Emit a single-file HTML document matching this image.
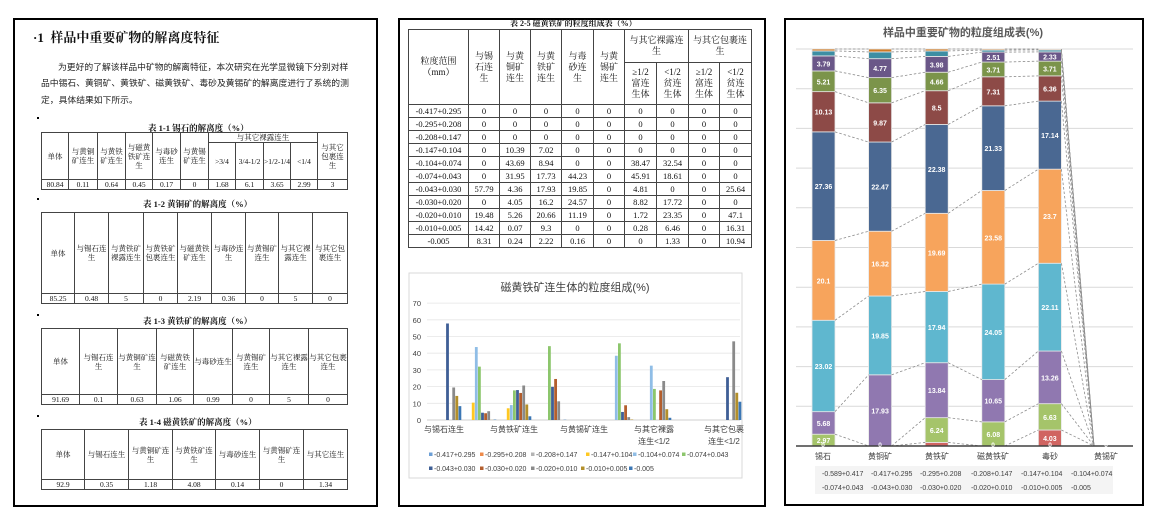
<!DOCTYPE html>
<html><head><meta charset="utf-8">
<style>
*{margin:0;padding:0;box-sizing:border-box}
body{width:1149px;height:518px;background:#fff;position:relative;overflow:hidden;font-family:"Liberation Serif","Noto Serif CJK SC",serif;color:#111}
.panel{position:absolute;border:2px solid #000;background:#fff}
.abs{position:absolute}
table{border-collapse:collapse;position:absolute;table-layout:fixed}
td{border:1px solid #444;text-align:center;vertical-align:middle;font-size:7.5px;line-height:9px;padding:0;overflow:hidden}
.cap{position:absolute;font-weight:bold;font-size:8.5px;white-space:nowrap}
.dot{position:absolute;width:2px;height:2px;background:#000;left:37px}
.mt td{font-size:8.5px;line-height:10px}
.mt .h td{font-size:9px;line-height:11px}
.pl{position:absolute;white-space:nowrap;font-size:8.8px;font-family:'Noto Sans CJK SC',sans-serif;color:#222}
</style></head><body>

<div class="panel" style="left:13px;top:18px;width:365px;height:489px"></div>
<div class="panel" style="left:398px;top:18px;width:368px;height:489px"></div>
<div class="panel" style="left:784px;top:18px;width:360px;height:488px"></div>

<!-- LEFT PANEL -->
<div class="abs" style="left:33px;top:27px;font-size:13px;font-weight:bold;white-space:nowrap">·1&nbsp; 样品中重要矿物的解离度特征</div>
<div class="pl" style="left:58px;top:60px">为更好的了解该样品中矿物的解离特征，本次研究在光学显微镜下分别对样</div>
<div class="pl" style="left:41px;top:76px">品中锡石、黄铜矿、黄铁矿、磁黄铁矿、毒砂及黄锡矿的解离度进行了系统的测</div>
<div class="pl" style="left:41px;top:93px">定，具体结果如下所示。</div>

<div class="dot" style="top:117px"></div>
<div class="cap" style="left:148px;top:122px">表 1-1 锡石的解离度（%）</div>
<table style="left:41px;top:132px;width:306px">
<colgroup><col style="width:27px"><col style="width:29px"><col style="width:28px"><col style="width:27px"><col style="width:28px"><col style="width:28px"><col style="width:27px"><col style="width:28px"><col style="width:27px"><col style="width:27px"><col style="width:30px"></colgroup>
<tr style="height:10px"><td rowspan="2">单体</td><td rowspan="2">与黄铜矿连生</td><td rowspan="2">与黄铁矿连生</td><td rowspan="2">与磁黄铁矿连生</td><td rowspan="2">与毒砂连生</td><td rowspan="2">与黄锡矿连生</td><td colspan="4">与其它裸露连生</td><td rowspan="2">与其它包裹连生</td></tr>
<tr style="height:37px"><td>&gt;3/4</td><td>3/4-1/2</td><td>&gt;1/2-1/4</td><td>&lt;1/4</td></tr>
<tr style="height:8px"><td>80.84</td><td>0.11</td><td>0.64</td><td>0.45</td><td>0.17</td><td>0</td><td>1.68</td><td>6.1</td><td>3.65</td><td>2.99</td><td>3</td></tr>
</table>

<div class="dot" style="top:198px"></div>
<div class="cap" style="left:143px;top:198px">表 1-2 黄铜矿的解离度（%）</div>
<table style="left:41px;top:212px;width:306px">
<colgroup><col style="width:33px"><col style="width:34px"><col style="width:35px"><col style="width:34px"><col style="width:34px"><col style="width:34px"><col style="width:33px"><col style="width:34px"><col style="width:35px"></colgroup>
<tr style="height:81px"><td>单体</td><td>与锡石连生</td><td>与黄铁矿裸露连生</td><td>与黄铁矿包裹连生</td><td>与磁黄铁矿连生</td><td>与毒砂连生</td><td>与黄锡矿连生</td><td>与其它裸露连生</td><td>与其它包裹连生</td></tr>
<tr style="height:10px"><td>85.25</td><td>0.48</td><td>5</td><td>0</td><td>2.19</td><td>0.36</td><td>0</td><td>5</td><td>0</td></tr>
</table>

<div class="dot" style="top:314px"></div>
<div class="cap" style="left:143px;top:315px">表 1-3 黄铁矿的解离度（%）</div>
<table style="left:41px;top:328px;width:306px">
<colgroup><col style="width:38px"><col style="width:38px"><col style="width:39px"><col style="width:37px"><col style="width:39px"><col style="width:37px"><col style="width:39px"><col style="width:39px"></colgroup>
<tr style="height:66px"><td>单体</td><td>与锡石连生</td><td>与黄铜矿连生</td><td>与磁黄铁矿连生</td><td>与毒砂连生</td><td>与黄锡矿连生</td><td>与其它裸露连生</td><td>与其它包裹连生</td></tr>
<tr style="height:9px"><td>91.69</td><td>0.1</td><td>0.63</td><td>1.06</td><td>0.99</td><td>0</td><td>5</td><td>0</td></tr>
</table>

<div class="dot" style="top:415px"></div>
<div class="cap" style="left:139px;top:416px">表 1-4 磁黄铁矿的解离度（%）</div>
<table style="left:41px;top:429px;width:306px">
<colgroup><col style="width:43px"><col style="width:44px"><col style="width:44px"><col style="width:43px"><col style="width:44px"><col style="width:44px"><col style="width:44px"></colgroup>
<tr style="height:50px"><td>单体</td><td>与锡石连生</td><td>与黄铜矿连生</td><td>与黄铁矿连生</td><td>与毒砂连生</td><td>与黄锡矿连生</td><td>与其它连生</td></tr>
<tr style="height:9px"><td>92.9</td><td>0.35</td><td>1.18</td><td>4.08</td><td>0.14</td><td>0</td><td>1.34</td></tr>
</table>

<!-- MIDDLE PANEL -->
<div class="cap" style="left:510px;top:18px;font-size:8px">表 2-5 磁黄铁矿的粒度组成表（%）</div>
<table class="mt" style="left:408px;top:29px;width:343px">
<colgroup><col style="width:60px"><col style="width:31px"><col style="width:31px"><col style="width:31px"><col style="width:32px"><col style="width:31px"><col style="width:32px"><col style="width:32px"><col style="width:31px"><col style="width:32px"></colgroup>
<tr class="h" style="height:33px"><td rowspan="2">粒度范围<br>（mm）</td><td rowspan="2">与锡<br>石连<br>生</td><td rowspan="2">与黄<br>铜矿<br>连生</td><td rowspan="2">与黄<br>铁矿<br>连生</td><td rowspan="2">与毒<br>砂连<br>生</td><td rowspan="2">与黄<br>锡矿<br>连生</td><td colspan="2">与其它裸露连<br>生</td><td colspan="2">与其它包裹连<br>生</td></tr>
<tr class="h" style="height:42px"><td>≥1/2<br>富连<br>生体</td><td>&lt;1/2<br>贫连<br>生体</td><td>≥1/2<br>富连<br>生体</td><td>&lt;1/2<br>贫连<br>生体</td></tr>
<tr style="height:13px"><td>-0.417+0.295</td><td>0</td><td>0</td><td>0</td><td>0</td><td>0</td><td>0</td><td>0</td><td>0</td><td>0</td></tr>
<tr style="height:13px"><td>-0.295+0.208</td><td>0</td><td>0</td><td>0</td><td>0</td><td>0</td><td>0</td><td>0</td><td>0</td><td>0</td></tr>
<tr style="height:13px"><td>-0.208+0.147</td><td>0</td><td>0</td><td>0</td><td>0</td><td>0</td><td>0</td><td>0</td><td>0</td><td>0</td></tr>
<tr style="height:13px"><td>-0.147+0.104</td><td>0</td><td>10.39</td><td>7.02</td><td>0</td><td>0</td><td>0</td><td>0</td><td>0</td><td>0</td></tr>
<tr style="height:13px"><td>-0.104+0.074</td><td>0</td><td>43.69</td><td>8.94</td><td>0</td><td>0</td><td>38.47</td><td>32.54</td><td>0</td><td>0</td></tr>
<tr style="height:13px"><td>-0.074+0.043</td><td>0</td><td>31.95</td><td>17.73</td><td>44.23</td><td>0</td><td>45.91</td><td>18.61</td><td>0</td><td>0</td></tr>
<tr style="height:13px"><td>-0.043+0.030</td><td>57.79</td><td>4.36</td><td>17.93</td><td>19.85</td><td>0</td><td>4.81</td><td>0</td><td>0</td><td>25.64</td></tr>
<tr style="height:13px"><td>-0.030+0.020</td><td>0</td><td>4.05</td><td>16.2</td><td>24.57</td><td>0</td><td>8.82</td><td>17.72</td><td>0</td><td>0</td></tr>
<tr style="height:13px"><td>-0.020+0.010</td><td>19.48</td><td>5.26</td><td>20.66</td><td>11.19</td><td>0</td><td>1.72</td><td>23.35</td><td>0</td><td>47.1</td></tr>
<tr style="height:13px"><td>-0.010+0.005</td><td>14.42</td><td>0.07</td><td>9.3</td><td>0</td><td>0</td><td>0.28</td><td>6.46</td><td>0</td><td>16.31</td></tr>
<tr style="height:13px"><td>-0.005</td><td>8.31</td><td>0.24</td><td>2.22</td><td>0.16</td><td>0</td><td>0</td><td>1.33</td><td>0</td><td>10.94</td></tr>
</table>

<svg id="mid" class="abs" style="left:0;top:0" width="1149" height="518" xmlns="http://www.w3.org/2000/svg" font-family="Liberation Sans, Noto Sans CJK SC, sans-serif">
<rect x="409" y="273" width="333" height="205" fill="#fff" stroke="#d9d9d9"/>
<text x="575" y="291" font-size="11" fill="#404040" text-anchor="middle">磁黄铁矿连生体的粒度组成(%)</text>
<g id="midg"></g>
<g font-size="8" fill="#404040" text-anchor="middle">
<text x="444" y="432">与锡石连生</text>
<text x="514" y="432">与黄铁矿连生</text>
<text x="584" y="432">与黄锡矿连生</text>
<text x="654" y="432">与其它裸露</text><text x="654" y="444">连生&lt;1/2</text>
<text x="724" y="432">与其它包裹</text><text x="724" y="444">连生&lt;1/2</text>
</g>
<g font-size="7" fill="#404040" id="midleg">
<text x="434" y="457">-0.417+0.295</text><text x="485" y="457">-0.295+0.208</text><text x="536" y="457">-0.208+0.147</text><text x="591" y="457">-0.147+0.104</text><text x="638" y="457">-0.104+0.074</text><text x="687" y="457">-0.074+0.043</text>
<text x="434" y="471">-0.043+0.030</text><text x="485" y="471">-0.030+0.020</text><text x="536" y="471">-0.020+0.010</text><text x="586" y="471">-0.010+0.005</text><text x="634" y="471">-0.005</text>
</g>

<!-- RIGHT CHART -->
<text x="963" y="36" font-size="11" font-weight="bold" fill="#595959" text-anchor="middle">样品中重要矿物的粒度组成表(%)</text>
<g id="rg"></g>
<g font-size="8" fill="#404040" text-anchor="middle">
<text x="823" y="459">锡石</text><text x="880" y="459">黄铜矿</text><text x="937" y="459">黄铁矿</text><text x="993" y="459">磁黄铁矿</text><text x="1050" y="459">毒砂</text><text x="1106" y="459">黄锡矿</text>
</g>
<rect x="815" y="466" width="298" height="28" fill="#f4f4f4"/>
<g font-size="7" fill="#404040" id="rleg">
<text x="822" y="476">-0.589+0.417</text><text x="871" y="476">-0.417+0.295</text><text x="920" y="476">-0.295+0.208</text><text x="971" y="476">-0.208+0.147</text><text x="1021" y="476">-0.147+0.104</text><text x="1071" y="476">-0.104+0.074</text>
<text x="822" y="490">-0.074+0.043</text><text x="871" y="490">-0.043+0.030</text><text x="920" y="490">-0.030+0.020</text><text x="971" y="490">-0.020+0.010</text><text x="1021" y="490">-0.010+0.005</text><text x="1071" y="490">-0.005</text>
</g>
</svg>

<script>
var NS="http://www.w3.org/2000/svg";
function el(p,t,a,txt){var e=document.createElementNS(NS,t);for(var k in a)e.setAttribute(k,a[k]);if(txt!==undefined)e.textContent=txt;p.appendChild(e);return e;}
var mg=document.getElementById("midg");
for(var i=0;i<=7;i++){var y=420-i*16.7;el(mg,"line",{x1:427,x2:740,y1:y,y2:y,stroke:i?"#e6e6e6":"#bfbfbf","stroke-width":0.8});el(mg,"text",{x:421,y:y+3,"font-size":7.5,fill:"#404040","text-anchor":"end"},String(i*10));}
var mc=["#6c9fd6","#ee8a4a","#b4b4b4","#ffc821","#8fbde6","#8cc66c","#3f5f96","#b35e2d","#8a8a8a","#b38f2a","#3b77b5"];
var md=[[0,0,0,0,0,0,57.79,0,19.48,14.42,8.31],[0,0,0,10.39,43.69,31.95,4.36,4.05,5.26,0.07,0.24],[0,0,0,7.02,8.94,17.73,17.93,16.2,20.66,9.3,2.22],[0,0,0,0,0,44.23,19.85,24.57,11.19,0,0.16],[0,0,0,0,0,0,0,0,0,0,0],[0,0,0,0,38.47,45.91,4.81,8.82,1.72,0.28,0],[0,0,0,0,32.54,18.61,0,17.72,23.35,6.46,1.33],[0,0,0,0,0,0,0,0,0,0,0],[0,0,0,0,0,0,25.64,0,47.1,16.31,10.94]];
for(var c=0;c<9;c++){var cx=444.5+c*35;for(var s=0;s<11;s++){var v=md[c][s];if(!v)continue;var h=v*1.67;el(mg,"rect",{x:cx-17+s*3.1,y:420-h,width:2.8,height:h,fill:mc[s]});}}
var ml=document.getElementById("midleg").children;
for(var i=0;i<ml.length;i++){var t=ml[i];el(mg,"rect",{x:+t.getAttribute("x")-5,y:+t.getAttribute("y")-4.5,width:3.5,height:3.5,fill:mc[i]});}
var rg=document.getElementById("rg");
for(var i=1;i<=10;i++){var y=446-i*39.7;el(rg,"line",{x1:796,x2:1133,y1:y,y2:y,stroke:"#d9d9d9","stroke-width":1});}
var rc=["#4f81bd","#d06461","#a5c46a","#9078b0","#5fb7cf","#f7a45c","#4a6892","#8d4a47","#7b944a","#6a5788","#3d8ea3","#cf7a25"];
var rd=[[0,0,2.97,5.68,23.02,20.1,27.36,10.13,5.21,3.79,1.25,0.49],[0,0,0,17.93,19.85,16.32,22.47,9.87,6.35,4.77,1.7,0.74],[0,0.9,6.24,13.84,17.94,19.69,22.38,8.5,4.66,3.98,1.38,0.49],[0,0,6.08,10.65,24.05,23.58,21.33,7.31,3.71,2.51,0.5,0.28],[0,4.03,6.63,13.26,22.11,23.7,17.14,6.36,3.71,2.33,0.5,0.23],[0,0,0,0,0,0,0,0,0,0,0,0]];
var K=3.97,BW=23,tops=[];
for(var b=0;b<6;b++){var x=812+b*56.6,cum=0;tops[b]=[];for(var s=0;s<12;s++){var v=rd[b][s];var y0=446-cum*K;cum+=v;var y1=446-cum*K;tops[b][s]=y1;
 if(v>0){el(rg,"rect",{x:x,y:y1,width:BW,height:y0-y1,fill:rc[s],stroke:"#e8e8e8","stroke-width":0.8});
  if(v>=2)el(rg,"text",{x:x+BW/2,y:(y0+y1)/2+3,"font-size":7,"font-weight":"bold",fill:"#fff","text-anchor":"middle","font-family":"Liberation Sans, sans-serif"},String(v));}}}
for(var s=0;s<12;s++)for(var b=0;b<5;b++){var x1=812+b*56.6+BW,x2=812+(b+1)*56.6;if(b==4)x2=1094;
 el(rg,"line",{x1:x1,y1:tops[b][s],x2:x2,y2:tops[b+1][s],stroke:"#8c8c8c","stroke-width":0.8,"stroke-dasharray":"2.5,2"});}
el(rg,"line",{x1:796,x2:1133,y1:446,y2:446,stroke:"#404040","stroke-width":1.5});
var zl=[[823,"0"],[880,"0"],[993,"0"],[1050,"0"],[1106,"0"]];
zl.forEach(function(z){el(rg,"text",{x:z[0],y:447,"font-size":6.5,"font-weight":"bold",fill:"#fff","text-anchor":"middle"},z[1]);});
var rl=document.getElementById("rleg").children;
for(var i=0;i<rl.length;i++){var t=rl[i];el(rg,"rect",{x:+t.getAttribute("x")-5,y:+t.getAttribute("y")-4.5,width:3.5,height:3.5,fill:rc[i]});}
</script>
</body></html>
